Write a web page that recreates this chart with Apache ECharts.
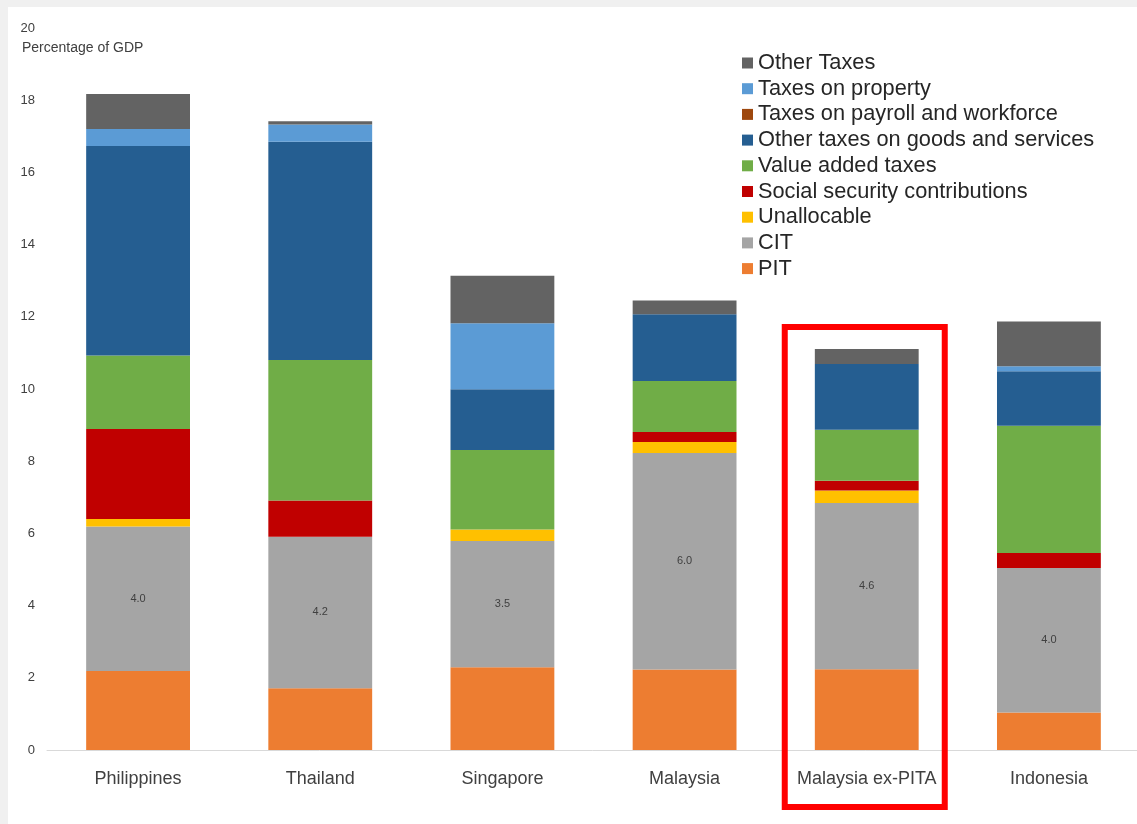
<!DOCTYPE html>
<html>
<head>
<meta charset="utf-8">
<script src="https://cdn.jsdelivr.net/npm/echarts@6/dist/echarts.min.js"></script>
<style>
html,body{margin:0;padding:0;background:#f0f0f0;}
#wrap{position:absolute;left:8px;top:7px;width:1129px;height:817px;background:#fff;}
#chart{position:absolute;left:0;top:0;width:1137px;height:824px;}
</style>
</head>
<body>
<div id="wrap"></div>
<div id="chart"></div>
<script>
const categories = ['Philippines','Thailand','Singapore','Malaysia','Malaysia ex-PITA','Indonesia'];
const pit        = [2.19, 1.71, 2.29, 2.23, 2.24, 1.04];
const cit        = [4.0, 4.2, 3.5, 6.0, 4.6, 4.0];
const unalloc    = [0.21, 0, 0.32, 0.30, 0.35, 0];
const ssc        = [2.49, 1.00, 0, 0.28, 0.27, 0.42];
const vat        = [2.04, 3.89, 2.20, 1.41, 1.41, 3.52];
const otherGoods = [5.80, 6.05, 1.68, 1.85, 1.82, 1.51];
const payroll    = [0, 0, 0, 0, 0, 0];
const property   = [0.47, 0.48, 1.83, 0, 0, 0.14];
const otherTaxes = [0.97, 0.09, 1.32, 0.38, 0.42, 1.24];
const yTicks = [0, 2, 4, 6, 8, 10, 12, 14, 16, 18, 20];
const highlighted = 'Malaysia ex-PITA';

const seriesDefs = [
  ['PIT', pit, '#ED7D31'],
  ['CIT', cit, '#A5A5A5'],
  ['Unallocable', unalloc, '#FFC000'],
  ['Social security contributions', ssc, '#C00000'],
  ['Value added taxes', vat, '#70AD47'],
  ['Other taxes on goods and services', otherGoods, '#255E91'],
  ['Taxes on payroll and workforce', payroll, '#9E480E'],
  ['Taxes on property', property, '#5B9BD5'],
  ['Other Taxes', otherTaxes, '#636363']
];

const font = '"Liberation Sans", Arial, sans-serif';
const chart = echarts.init(document.getElementById('chart'), null, {renderer:'canvas'});
const option = {
  backgroundColor: 'transparent',
  animation: false,
  textStyle: {fontFamily: font},
  title: {
    text: 'Percentage of GDP', left: 17, top: 36,
    textStyle: {fontSize: 14, fontWeight: 'normal', color: '#404040', fontFamily: font}
  },
  legend: {
    orient: 'vertical', left: 737, top: 47,
    itemWidth: 11, itemHeight: 11, itemGap: 3.7,
    icon: 'rect',
    data: seriesDefs.map(d => d[0]).reverse(),
    textStyle: {fontSize: 21.75, lineHeight: 21.75, color: '#262626', fontFamily: font}
  },
  grid: {left: 47, width: 1093, top: 28, bottom: 74, outerBoundsMode: 'none'},
  xAxis: {
    type: 'category', data: categories,
    axisLine: {lineStyle: {color: '#d9d9d9', width: 1}},
    axisTick: {show: false},
    axisLabel: {fontSize: 18, color: '#404040', margin: 20, fontFamily: font}
  },
  yAxis: {
    type: 'value', min: yTicks[0], max: yTicks[yTicks.length-1], interval: 2,
    splitLine: {show: false},
    axisLine: {show: false}, axisTick: {show: false},
    axisLabel: {fontSize: 13, color: '#404040', margin: 12, fontFamily: font}
  },
  series: seriesDefs.map(([name, data, color]) => ({
    name, type: 'bar', stack: 'total', data,
    barWidth: '57%',
    itemStyle: {color},
    label: name === 'CIT' ? {
      show: true, position: 'inside', fontSize: 11, color: '#404040',
      formatter: p => p.value.toFixed(1)
    } : {show: false}
  }))
};
chart.setOption(option);

// red highlight box around the highlighted category
const idx = categories.indexOf(highlighted);
let total = 0;
seriesDefs.forEach(d => total += d[1][idx]);
const topPt = chart.convertToPixel({gridIndex: 0}, [idx, total]);
const basePt = chart.convertToPixel({gridIndex: 0}, [idx, 0]);
const halfW = 80;
chart.setOption({
  graphic: [{
    type: 'rect', z: 100,
    shape: {x: topPt[0] - 2 - halfW, y: topPt[1] - 22, width: halfW * 2, height: (basePt[1] + 57) - (topPt[1] - 22)},
    style: {fill: 'none', stroke: '#ff0000', lineWidth: 6}
  }]
});
</script>
</body>
</html>
